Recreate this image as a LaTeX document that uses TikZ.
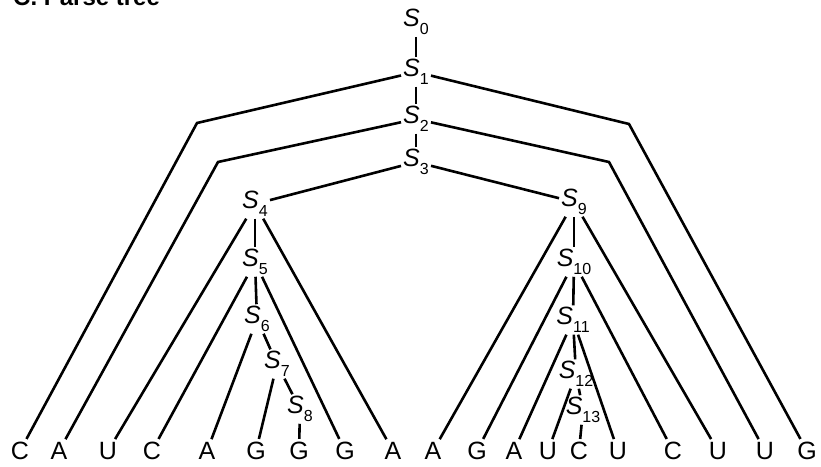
\documentclass[tikz,border=0pt]{standalone}
\usepackage{fontspec}
\setmainfont{Liberation Sans}
\usepackage{tikz}
\usetikzlibrary{positioning}
\newcommand{\Ssub}[1]{\textit{S}\raisebox{-0.3em}{\fontsize{16}{16}\selectfont #1}}

\begin{document}
\begin{tikzpicture}[x=1pt,y=-1pt,
  snode/.style={inner sep=2pt, font=\fontsize{25}{28}\selectfont},
  leaf/.style={inner sep=3pt, font=\fontsize{25}{28}\selectfont},
  edge/.style={line width=2.6pt}
]
\useasboundingbox (0,0) rectangle (821,466);
\node[anchor=base west, inner sep=0pt, font=\bfseries\fontsize{24}{28}\selectfont] (title) at (13,5) {C. Parse tree};

% internal states
\node[snode] (s0)  at (416,22)  {\Ssub{0}};
\node[snode] (s1)  at (416,72)  {\Ssub{1}};
\node[snode] (s2)  at (416,119) {\Ssub{2}};
\node[snode] (s3)  at (416,162) {\Ssub{3}};
\node[snode] (s4)  at (255,204) {\Ssub{4}};
\node[snode] (s5)  at (255,262) {\Ssub{5}};
\node[snode] (s6)  at (257,319) {\Ssub{6}};
\node[snode] (s7)  at (277,364) {\Ssub{7}};
\node[snode] (s8)  at (300,409) {\Ssub{8}};
\node[snode] (s9)  at (574,202) {\Ssub{9}};
\node[snode] (s10) at (574,262) {\Ssub{10}};
\node[snode] (s11) at (573,320) {\Ssub{11}};
\node[snode] (s12) at (576,374) {\Ssub{12}};
\node[snode] (s13) at (583,410) {\Ssub{13}};

% sequence
\node[leaf] (l1)  at (20,451)  {C};
\node[leaf] (l2)  at (59,451)  {A};
\node[leaf] (l3)  at (108,451) {U};
\node[leaf] (l4)  at (152,451) {C};
\node[leaf] (l5)  at (207,451) {A};
\node[leaf] (l6)  at (256,451) {G};
\node[leaf] (l7)  at (299,451) {G};
\node[leaf] (l8)  at (345,451) {G};
\node[leaf] (l9)  at (393,451) {A};
\node[leaf] (l10) at (433,451) {A};
\node[leaf] (l11) at (477,451) {G};
\node[leaf] (l12) at (514,451) {A};
\node[leaf] (l13) at (548,451) {U};
\node[leaf] (l14) at (579,451) {C};
\node[leaf] (l15) at (618,451) {U};
\node[leaf] (l16) at (673,451) {C};
\node[leaf] (l17) at (718,451) {U};
\node[leaf] (l18) at (765,451) {U};
\node[leaf] (l19) at (807,451) {G};

% bends of the outer pairs
\coordinate (b1l) at (197,123);
\coordinate (b2l) at (218,162);
\coordinate (b1r) at (629,124);
\coordinate (b2r) at (609,162);

\draw[edge] (s0)--(s1);
\draw[edge] (s1)--(s2);
\draw[edge] (s2)--(s3);
\draw[edge] (s1) -- (b1l) -- (l1);
\draw[edge] (s1) -- (b1r) -- (l19);
\draw[edge] (s2) -- (b2l) -- (l2);
\draw[edge] (s2) -- (b2r) -- (l18);
\draw[edge] (s3)--(s4);
\draw[edge] (s3)--(s9);

\draw[edge] (s4)--(l3);
\draw[edge] (s4)--(s5);
\draw[edge] (s4)--(l9);
\draw[edge] (s5)--(l4);
\draw[edge] (s5)--(s6);
\draw[edge] (s5)--(l8);
\draw[edge] (s6)--(l5);
\draw[edge] (s6)--(s7);
\draw[edge] (s7)--(l6);
\draw[edge] (s7)--(s8);
\draw[edge] (s8)--(l7);

\draw[edge] (s9)--(l10);
\draw[edge] (s9)--(s10);
\draw[edge] (s9)--(l17);
\draw[edge] (s10)--(l11);
\draw[edge] (s10)--(s11);
\draw[edge] (s10)--(l16);
\draw[edge] (s11)--(l12);
\draw[edge] (s11)--(s12);
\draw[edge] (s11)--(l15);
\draw[edge] (s12)--(l13);
\draw[edge] (s12)--(s13);
\draw[edge] (s13)--(l14);

\end{tikzpicture}
\end{document}
